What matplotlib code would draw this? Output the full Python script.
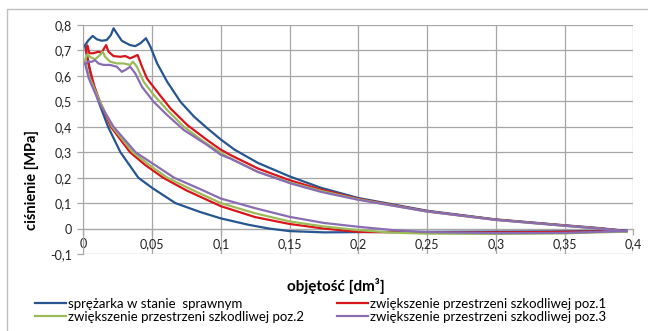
import matplotlib
matplotlib.use("Agg")
import matplotlib.pyplot as plt
from matplotlib.patches import Rectangle
from matplotlib.ticker import FuncFormatter, MultipleLocator

plt.rcParams["font.family"] = ["Lato", "DejaVu Sans"]

# pressure-volume loops (V in dm3, p in MPa)
# upper branch: compression + discharge (right -> left)
V_UP_OK = [0.395, 0.375, 0.35, 0.3, 0.25, 0.2, 0.173, 0.15, 0.127, 0.11, 0.1, 0.09, 0.0805,
           0.0707, 0.061, 0.0537, 0.0488, 0.0456, 0.0415, 0.0378, 0.034, 0.028, 0.0244,
           0.022, 0.020, 0.017, 0.0134, 0.0098, 0.0068, 0.0037, 0.0012]
P_UP_OK = [-0.009, 0.002, 0.013, 0.036, 0.07, 0.12, 0.16, 0.205, 0.258, 0.31, 0.35, 0.395, 0.44,
           0.498, 0.577, 0.649, 0.715, 0.748, 0.728, 0.717, 0.721, 0.738, 0.767,
           0.787, 0.76, 0.741, 0.738, 0.744, 0.757, 0.74, 0.72]
V_UP_1 = [0.395, 0.375, 0.35, 0.3, 0.25, 0.2, 0.173, 0.15, 0.127, 0.107, 0.1, 0.09, 0.0756,
          0.0634, 0.0537, 0.0463, 0.0427, 0.0395, 0.0378, 0.0341, 0.0305, 0.0268, 0.022,
          0.0183, 0.0166, 0.0151, 0.0134, 0.011, 0.0073, 0.0044, 0.003, 0.002]
P_UP_1 = [-0.01, 0.001, 0.012, 0.035, 0.068, 0.117, 0.153, 0.19, 0.236, 0.289, 0.31, 0.348, 0.407,
          0.472, 0.538, 0.59, 0.636, 0.682, 0.678, 0.669, 0.678, 0.675, 0.678,
          0.695, 0.721, 0.708, 0.691, 0.695, 0.689, 0.689, 0.72, 0.70]
V_UP_2 = [0.395, 0.375, 0.35, 0.3, 0.25, 0.2, 0.173, 0.151, 0.1268, 0.1049, 0.1, 0.0878, 0.0732,
          0.061, 0.0512, 0.0439, 0.039, 0.0361, 0.0341, 0.0293, 0.0244, 0.0195, 0.0159,
          0.0141, 0.0122, 0.0085, 0.0049, 0.003, 0.0012]
P_UP_2 = [-0.012, 0.0, 0.011, 0.034, 0.067, 0.115, 0.148, 0.18, 0.223, 0.282, 0.298, 0.341, 0.40,
          0.466, 0.525, 0.577, 0.636, 0.656, 0.643, 0.649, 0.649, 0.656, 0.675,
          0.695, 0.682, 0.665, 0.675, 0.685, 0.662]
V_UP_3 = [0.395, 0.375, 0.35, 0.3, 0.25, 0.2, 0.173, 0.151, 0.1268, 0.107, 0.1, 0.0902, 0.0732,
          0.061, 0.0512, 0.0427, 0.0378, 0.0341, 0.0305, 0.028, 0.0244, 0.0195, 0.0146,
          0.011, 0.0085, 0.006, 0.0037, 0.0012]
P_UP_3 = [-0.01, 0.0, 0.011, 0.034, 0.067, 0.113, 0.144, 0.177, 0.223, 0.275, 0.29, 0.328, 0.387,
          0.446, 0.498, 0.557, 0.61, 0.636, 0.623, 0.616, 0.636, 0.643, 0.643,
          0.649, 0.662, 0.655, 0.656, 0.649]

# lower branch: re-expansion + suction (left -> right)
V_LO_OK = [0.0012, 0.004, 0.007, 0.011, 0.018, 0.027, 0.04, 0.05, 0.067, 0.085, 0.1, 0.12,
           0.135, 0.15, 0.175, 0.2, 0.25, 0.3, 0.35, 0.395]
P_LO_OK = [0.72, 0.64, 0.57, 0.5, 0.4, 0.3, 0.2, 0.16, 0.1, 0.065, 0.04, 0.015,
           0.0, -0.01, -0.015, -0.014, -0.013, -0.012, -0.011, -0.009]
V_LO_1 = [0.002, 0.005, 0.008, 0.012, 0.02, 0.034, 0.045, 0.058, 0.075, 0.1, 0.125, 0.15,
          0.175, 0.2, 0.25, 0.3, 0.35, 0.395]
P_LO_1 = [0.70, 0.62, 0.56, 0.5, 0.4, 0.3, 0.25, 0.2, 0.15, 0.088, 0.045, 0.018,
          0.0, -0.013, -0.016, -0.015, -0.013, -0.01]
V_LO_2 = [0.0012, 0.004, 0.008, 0.012, 0.021, 0.036, 0.048, 0.061, 0.08, 0.1, 0.125, 0.15,
          0.175, 0.2, 0.225, 0.25, 0.3, 0.35, 0.395]
P_LO_2 = [0.66, 0.60, 0.55, 0.5, 0.4, 0.3, 0.25, 0.2, 0.15, 0.1, 0.06, 0.028,
          0.008, -0.006, -0.016, -0.02, -0.021, -0.019, -0.012]
V_LO_3 = [0.0012, 0.004, 0.008, 0.012, 0.022, 0.038, 0.052, 0.066, 0.085, 0.1, 0.125, 0.15,
          0.175, 0.2, 0.225, 0.25, 0.3, 0.35, 0.395]
P_LO_3 = [0.65, 0.59, 0.54, 0.49, 0.4, 0.3, 0.25, 0.2, 0.155, 0.118, 0.08, 0.046,
          0.022, 0.007, -0.006, -0.014, -0.018, -0.017, -0.01]

LABELS = ["sprężarka w stanie  sprawnym",
          "zwiększenie przestrzeni szkodliwej poz.1",
          "zwiększenie przestrzeni szkodliwej poz.2",
          "zwiększenie przestrzeni szkodliwej poz.3"]
COLORS = ["#26558f", "#d9141b", "#9bbb59", "#8a6cb3"]

series = [(V_UP_OK, P_UP_OK, V_LO_OK, P_LO_OK),
          (V_UP_1, P_UP_1, V_LO_1, P_LO_1),
          (V_UP_2, P_UP_2, V_LO_2, P_LO_2),
          (V_UP_3, P_UP_3, V_LO_3, P_LO_3)]

fig = plt.figure(figsize=(6.48, 3.31), dpi=100)
ax = fig.add_axes([83.3 / 648, 1 - 254 / 331, 550 / 648, 229 / 331])

lines = []
for (vu, pu, vl, pl), col, lab in zip(series, COLORS, LABELS):
    ln, = ax.plot(vu + vl, pu + pl, color=col, lw=1.6, label=lab,
                  solid_joinstyle="round", zorder=3)
    lines.append(ln)

ax.set_xlim(0, 0.4)
ax.set_ylim(-0.1, 0.8)
ax.xaxis.set_major_locator(MultipleLocator(0.05))
ax.yaxis.set_major_locator(MultipleLocator(0.1))

def comma(v, pos):
    s = ("%.2f" % v).rstrip("0").rstrip(".")
    if s in ("-0", ""):
        s = "0"
    return s.replace(".", ",")

ax.xaxis.set_major_formatter(FuncFormatter(comma))
ax.yaxis.set_major_formatter(FuncFormatter(comma))
ax.grid(True, color="#a6a6a6", lw=0.9, zorder=0)
ax.set_axisbelow(True)
for s in ("top", "right"):
    ax.spines[s].set_visible(False)
ax.spines["bottom"].set_position(("data", 0))
ax.spines["bottom"].set_color("#a6a6a6")
ax.spines["left"].set_color("#a6a6a6")
ax.tick_params(axis="both", colors="#a6a6a6", labelcolor="#222222", labelsize=9,
               length=4, width=0.9)
ax.tick_params(axis="y", pad=4)
ax.tick_params(axis="x", pad=3)
ax.set_xlabel("")
fig.text(32 / 648, 1 - 180 / 331, "ciśnienie [MPa]", fontsize=10.5,
         fontweight="bold", rotation=90, ha="center", va="center")
fig.text(336 / 648, 1 - 286 / 331, "objętość [dm³]", fontsize=11,
         fontweight="bold", ha="center", va="center")

# outer chart frame (cropped on the right and bottom)
fig.patches.append(Rectangle((7 / 648, -0.1), 1.2, 1.1 - 9 / 331,
                             transform=fig.transFigure, fill=False,
                             edgecolor="#bfbfbf", lw=1.0))

kw = dict(frameon=False, fontsize=9.5, handlelength=2.35, handletextpad=0.15,
          labelspacing=0.08, borderpad=0, borderaxespad=0, loc="upper left")
fig.legend([lines[0], lines[2]], [LABELS[0], LABELS[2]],
           bbox_to_anchor=(35 / 648, 1 - 298 / 331), **kw)
fig.legend([lines[1], lines[3]], [LABELS[1], LABELS[3]],
           bbox_to_anchor=(337 / 648, 1 - 298 / 331), **kw)

fig.savefig("out.png", dpi=100)
